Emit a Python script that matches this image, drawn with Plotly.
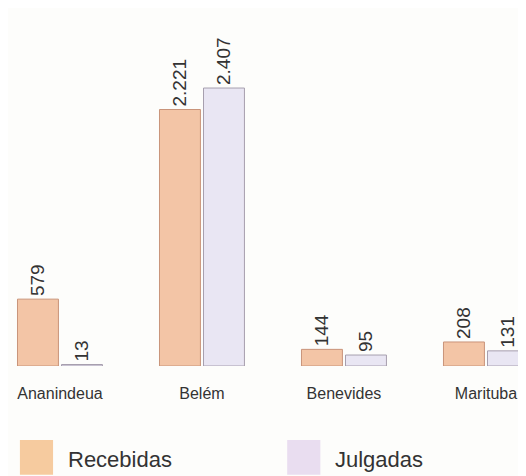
import plotly.graph_objects as go

# Dados do gráfico
municipios = ["Ananindeua", "Belém", "Benevides", "Marituba"]
recebidas = [579, 2221, 144, 208]
julgadas = [13, 2407, 95, 131]

cor_recebidas = "#f3c5a6"
cor_julgadas = "#e9e6f3"
fonte = "Liberation Sans, Arial"

fig = go.Figure()

fig.add_trace(go.Bar(
    x=municipios, y=recebidas, name="Recebidas",
    marker=dict(color=cor_recebidas, line=dict(color="#c9947a", width=1)),
    texttemplate="%{y:,}", textposition="outside", textangle=-90,
    textfont=dict(family=fonte, size=19, color="#333333"),
    cliponaxis=False, constraintext="none",
))
fig.add_trace(go.Bar(
    x=municipios, y=julgadas, name="Julgadas",
    marker=dict(color=cor_julgadas, line=dict(color="#a79fae", width=1)),
    texttemplate="%{y:,}", textposition="outside", textangle=-90,
    textfont=dict(family=fonte, size=19, color="#333333"),
    cliponaxis=False, constraintext="none",
))

# Legenda desenhada à mão (quadrados grandes como no original)
legenda = [("Recebidas", "#f6cb9f", 0.023), ("Julgadas", "#e9ddf0", 0.539)]
for nome, cor, x0 in legenda:
    fig.add_shape(type="rect", xref="paper", yref="paper",
                  x0=x0, x1=x0 + 0.064, y0=-0.304, y1=-0.207,
                  fillcolor=cor, line=dict(width=0))
    fig.add_annotation(text=nome, xref="paper", yref="paper",
                       x=x0 + 0.089, y=-0.262, xanchor="left", yanchor="middle",
                       showarrow=False,
                       font=dict(family=fonte, size=22, color="#333333"))

fig.update_layout(
    width=518, height=468,
    margin=dict(l=0, r=0, t=0, b=110),
    paper_bgcolor="#fdfdfb", plot_bgcolor="#fdfdfb",
    barmode="group", bargap=0.38, bargroupgap=0.07,
    separators=",.",
    showlegend=False,
    xaxis=dict(range=[-0.366, 3.282], showline=False, ticks="", ticklabelstandoff=16,
               tickfont=dict(family=fonte, size=16, color="#333333")),
    yaxis=dict(range=[0, 3100], visible=False, showgrid=False),
)

fig.write_html("out.html")
